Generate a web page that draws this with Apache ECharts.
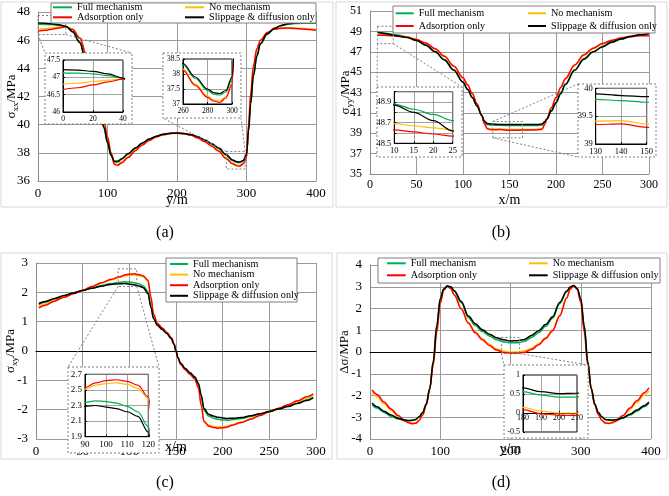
<!DOCTYPE html>
<html>
<head>
<meta charset="utf-8">
<script src="https://cdn.jsdelivr.net/npm/echarts@6/dist/echarts.min.js"></script>
<style>
  html, body { margin: 0; padding: 0; background: #fff; }
  #chart { width: 669px; height: 496px; }
</style>
</head>
<body>
<div id="chart"></div>
<script>
const names = ['Full mechanism', 'No mechanism', 'Adsorption only', 'Slippage & diffusion only'];
const colors = ['#00b050', '#ffc000', '#ff0000', '#000000'];
const font = "'Liberation Serif','Times New Roman',serif";

// (a) sigma_xx along y
const aX = [0,10,20,30,40,50,60,70,80,90,95,100,105,110,115,120,130,140,150,160,170,180,190,200,210,220,230,240,250,260,270,280,285,290,295,300,303,306,310,315,320,330,340,350,360,370,380,390,400];
const aFull = [47.13,47.12,47.10,47.05,46.97,46.58,45.82,44.27,42.45,40.65,39.75,38.70,37.80,37.34,37.35,37.53,37.90,38.31,38.67,38.96,39.16,39.31,39.38,39.39,39.37,39.28,39.12,38.89,38.61,38.30,37.85,37.45,37.33,37.30,37.40,37.82,39.55,41.45,43.45,44.85,45.72,46.42,46.82,47.02,47.13,47.18,47.20,47.20,47.20];
const aNo = [46.80,46.83,46.88,46.92,46.95,46.77,46.18,44.93,43.15,41.25,40.25,39.15,38.05,37.25,37.17,37.33,37.72,38.19,38.58,38.90,39.14,39.30,39.38,39.40,39.37,39.27,39.08,38.81,38.51,38.16,37.66,37.26,37.14,37.10,37.25,37.70,39.95,42.15,44.15,45.38,45.98,46.55,46.79,46.87,46.88,46.86,46.84,46.80,46.76];
const aAds = [46.65,46.70,46.78,46.87,46.95,46.75,46.15,44.90,43.10,41.20,40.20,39.10,38.00,37.17,37.12,37.28,37.68,38.15,38.55,38.88,39.12,39.28,39.37,39.40,39.36,39.25,39.05,38.78,38.47,38.12,37.62,37.22,37.10,37.05,37.20,37.65,40.00,42.20,44.20,45.40,46.00,46.55,46.78,46.85,46.86,46.83,46.80,46.75,46.70];
const aSlip = [47.22,47.21,47.17,47.10,46.98,46.60,45.85,44.30,42.50,40.70,39.80,38.75,37.85,37.40,37.40,37.58,37.95,38.35,38.70,38.98,39.18,39.32,39.39,39.40,39.38,39.30,39.15,38.92,38.65,38.35,37.90,37.50,37.38,37.35,37.45,37.90,39.60,41.50,43.50,44.90,45.75,46.45,46.85,47.05,47.17,47.22,47.25,47.25,47.25];

// (b) sigma_yy along x
const bX = [8,10,15,20,25,30,40,50,60,70,80,90,100,105,110,115,120,123,126,130,140,150,160,170,180,185,188,190,195,200,205,210,220,230,240,250,260,270,280,290,300];
const bFull = [48.90,48.88,48.83,48.78,48.72,48.64,48.45,48.13,47.67,47.02,46.22,45.22,44.02,43.30,42.50,41.68,40.75,40.12,39.85,39.80,39.78,39.75,39.75,39.75,39.77,39.80,40.10,40.35,41.15,41.95,42.85,43.75,45.15,46.25,46.97,47.47,47.92,48.23,48.48,48.66,48.78];
const bNo = [48.70,48.69,48.67,48.65,48.63,48.58,48.45,48.22,47.86,47.30,46.55,45.58,44.42,43.72,42.86,41.86,40.75,39.98,39.50,39.41,39.42,39.36,39.36,39.37,39.39,39.45,39.92,40.35,41.45,42.45,43.45,44.30,45.65,46.65,47.30,47.77,48.10,48.35,48.52,48.60,48.62];
const bAds = [48.64,48.63,48.61,48.59,48.57,48.53,48.42,48.20,47.85,47.30,46.55,45.60,44.45,43.75,42.90,41.90,40.75,39.95,39.45,39.35,39.36,39.30,39.30,39.32,39.34,39.40,39.90,40.35,41.50,42.50,43.50,44.35,45.70,46.70,47.35,47.80,48.12,48.35,48.50,48.56,48.58];
const bSlip = [48.90,48.87,48.80,48.72,48.62,48.55,48.40,48.10,47.65,47.00,46.20,45.20,44.00,43.30,42.50,41.70,40.80,40.20,39.95,39.90,39.87,39.85,39.85,39.85,39.86,39.90,40.15,40.40,41.20,42.00,42.90,43.80,45.20,46.30,47.00,47.50,47.95,48.25,48.50,48.68,48.80];
const bInsetYLabels = [48.5, 48.7, 48.9];

// (c) sigma_xy along x
const cX = [3,10,20,30,40,50,60,70,80,90,95,100,105,110,115,120,123,126,130,135,140,145,148,150,152,155,160,165,170,174,177,180,185,190,195,200,205,210,220,230,240,250,260,270,280,290,297];
const cFull = [1.58,1.66,1.77,1.88,1.98,2.06,2.15,2.23,2.30,2.34,2.36,2.35,2.33,2.29,2.22,2.03,1.55,1.13,0.90,0.75,0.61,0.43,0.22,0.00,-0.22,-0.43,-0.61,-0.75,-0.90,-1.13,-1.55,-2.03,-2.22,-2.29,-2.33,-2.35,-2.36,-2.34,-2.30,-2.23,-2.15,-2.06,-1.98,-1.88,-1.77,-1.66,-1.56];
const cNo = [1.52,1.60,1.73,1.85,1.96,2.07,2.19,2.31,2.42,2.51,2.56,2.58,2.59,2.57,2.52,2.39,1.82,1.23,0.94,0.78,0.63,0.45,0.23,0.00,-0.23,-0.45,-0.63,-0.78,-0.94,-1.23,-1.82,-2.39,-2.52,-2.57,-2.59,-2.58,-2.56,-2.51,-2.42,-2.31,-2.19,-2.07,-1.96,-1.85,-1.73,-1.60,-1.51];
const cAds = [1.47,1.56,1.70,1.83,1.95,2.07,2.20,2.33,2.44,2.53,2.59,2.62,2.63,2.61,2.56,2.41,1.85,1.25,0.95,0.79,0.64,0.46,0.24,0.00,-0.24,-0.46,-0.64,-0.79,-0.95,-1.25,-1.85,-2.41,-2.56,-2.61,-2.63,-2.62,-2.59,-2.53,-2.44,-2.33,-2.20,-2.07,-1.95,-1.83,-1.70,-1.56,-1.46];
const cSlip = [1.62,1.69,1.79,1.89,1.98,2.06,2.14,2.21,2.27,2.29,2.30,2.28,2.26,2.22,2.16,1.96,1.50,1.10,0.88,0.74,0.60,0.42,0.22,0.00,-0.22,-0.42,-0.60,-0.74,-0.88,-1.10,-1.50,-1.96,-2.16,-2.22,-2.26,-2.28,-2.30,-2.29,-2.27,-2.21,-2.14,-2.06,-1.98,-1.89,-1.79,-1.69,-1.60];

// (d) delta sigma along y
const dX = [3,10,20,30,40,50,55,60,65,70,75,80,85,90,95,100,105,110,115,120,130,140,150,160,170,180,190,200,210,220,230,240,250,260,270,280,285,290,295,300,305,310,315,320,325,330,335,340,345,350,360,370,380,390,397];
const dFull = [-2.42,-2.58,-2.78,-2.95,-3.08,-3.15,-3.16,-3.15,-3.10,-2.98,-2.77,-2.38,-1.68,-0.43,1.20,2.45,2.90,3.03,2.98,2.78,2.26,1.58,1.22,0.94,0.74,0.56,0.47,0.42,0.42,0.49,0.67,0.89,1.18,1.55,2.22,2.76,2.97,3.05,2.92,2.45,1.20,-0.43,-1.68,-2.38,-2.77,-2.98,-3.10,-3.14,-3.15,-3.14,-3.05,-2.90,-2.72,-2.52,-2.36];
const dNo = [-1.88,-2.06,-2.38,-2.68,-2.96,-3.18,-3.24,-3.28,-3.26,-3.13,-2.88,-2.43,-1.68,-0.57,0.92,2.27,2.86,3.02,2.93,2.64,2.01,1.36,0.92,0.61,0.36,0.15,0.05,0.00,0.00,0.06,0.17,0.38,0.66,1.02,1.70,2.50,2.90,3.06,2.88,2.32,0.95,-0.55,-1.66,-2.42,-2.86,-3.12,-3.25,-3.27,-3.23,-3.16,-2.94,-2.64,-2.32,-1.99,-1.80];
const dAds = [-1.75,-1.95,-2.30,-2.62,-2.92,-3.17,-3.25,-3.30,-3.28,-3.15,-2.90,-2.45,-1.70,-0.60,0.90,2.25,2.85,3.02,2.92,2.62,1.98,1.32,0.88,0.56,0.30,0.09,-0.02,-0.06,-0.06,-0.01,0.12,0.33,0.62,0.98,1.66,2.48,2.89,3.06,2.87,2.30,0.93,-0.58,-1.68,-2.44,-2.88,-3.14,-3.27,-3.29,-3.25,-3.18,-2.92,-2.58,-2.24,-1.88,-1.65];
const dSlip = [-2.35,-2.52,-2.72,-2.90,-3.05,-3.13,-3.15,-3.14,-3.10,-2.98,-2.78,-2.40,-1.70,-0.45,1.20,2.45,2.90,3.03,3.00,2.82,2.32,1.65,1.30,1.02,0.82,0.66,0.56,0.51,0.52,0.58,0.76,0.98,1.26,1.62,2.28,2.80,2.99,3.06,2.92,2.45,1.20,-0.45,-1.70,-2.40,-2.78,-2.98,-3.10,-3.12,-3.13,-3.12,-3.02,-2.86,-2.67,-2.47,-2.30];

// zoomed regions marked on the main plots (data units)
const aZoomL = { x: [0, 40], y: [46.4, 47.75] };
const aZoomR = { x: [271, 298], y: [36.85, 38.1] };
const bZoomL = { x: [8, 25], y: [47.8, 49.5] };
const bZoomM = { x: [132, 164], y: [38.55, 40.15] };
const cZoom = { x: [88, 108], y: [2.2, 2.8] };
const dZoom = { x: [187, 213], y: [-0.07, 0.67] };

function merge(a, b) {
  const out = Object.assign({}, a);
  for (const k in b) {
    const v = b[k];
    out[k] = (v && typeof v === 'object' && !Array.isArray(v) && a[k] && typeof a[k] === 'object') ? merge(a[k], v) : v;
  }
  return out;
}

const txt = { color: '#000', fontFamily: font };
const mainAxisBase = {
  type: 'value',
  axisTick: { show: false },
  axisLine: { show: true, onZero: false, lineStyle: { color: '#8c8c8c', width: 1 } },
  splitLine: { show: true, lineStyle: { color: '#9a9a9a', width: 1 } },
  axisLabel: Object.assign({ fontSize: 13, margin: 8 }, txt),
  nameLocation: 'middle',
  nameMoveOverlap: false,
  nameTextStyle: Object.assign({ fontSize: 14 }, txt),
  z: 0
};
const insetAxisBase = {
  type: 'value',
  axisTick: { show: true, inside: true, length: 2, lineStyle: { color: '#000' } },
  axisLine: { show: true, onZero: false, lineStyle: { color: '#000', width: 1 } },
  splitLine: { show: true, lineStyle: { color: '#8a8a8a', width: 0.8 } },
  axisLabel: Object.assign({ fontSize: 8, margin: 3 }, txt),
  z: 11
};
const nameRich = {
  m: { fontSize: 13, fontFamily: font, color: '#000' },
  s: { fontSize: 9, fontFamily: font, color: '#000', padding: [7, 0, 0, 0] }
};

const grids = [], xAxes = [], yAxes = [], series = [];
function addGrid(rect, xa, ya, xs, ysList, inset) {
  const gi = grids.length;
  grids.push({
    left: rect[0], top: rect[1], width: rect[2], height: rect[3],
    containLabel: false, outerBoundsMode: 'none',
    show: inset, borderColor: '#000', borderWidth: 1, backgroundColor: 'transparent',
    z: inset ? 10 : 0
  });
  xAxes.push(merge(inset ? insetAxisBase : mainAxisBase, Object.assign({ gridIndex: gi }, xa)));
  yAxes.push(merge(inset ? insetAxisBase : mainAxisBase, Object.assign({ gridIndex: gi }, ya)));
  ysList.forEach((ys, k) => {
    series.push({
      type: 'line', name: names[k], xAxisIndex: gi, yAxisIndex: gi,
      data: xs.map((x, i) => [x, ys[i]]),
      symbol: 'none', showSymbol: false, smooth: 0.35, smoothMonotone: 'x',
      lineStyle: { color: colors[k], width: inset ? 1.2 : 1.5 },
      itemStyle: { color: colors[k] },
      z: inset ? 12 : 2, silent: true
    });
  });
  return gi;
}

const aSet = [aFull, aNo, aAds, aSlip];
const bSet = [bFull, bNo, bAds, bSlip];
const cSet = [cFull, cNo, cAds, cSlip];
const dSet = [dFull, dNo, dAds, dSlip];

// (a)
const gA = addGrid([38, 12, 278, 169],
  { min: 0, max: 400, interval: 100, name: 'y/m', nameGap: 12, axisLabel: { margin: 6 } },
  { min: 36, max: 48, interval: 2, name: '{m|σ}{s|xx}{m|/MPa}', nameGap: 18, nameTextStyle: { rich: nameRich } },
  aX, aSet, false);
const gA1 = addGrid([63, 60, 60, 52],
  { min: 0, max: 40, interval: 20, axisLabel: { fontSize: 7.5 } },
  { min: 46, max: 47.5, interval: 0.5, axisLabel: { fontSize: 7.5 } },
  aX, aSet, true);
const gA2 = addGrid([183, 59, 49, 45],
  { min: 260, max: 300, interval: 20, axisLabel: { fontSize: 7.5 } },
  { min: 37, max: 38.5, interval: 0.5, axisLabel: { fontSize: 7.5 } },
  aX, aSet, true);

// (b)
const gB = addGrid([370, 11, 279, 163],
  { min: 0, max: 300, interval: 50, name: 'x/m', nameGap: 19, axisLabel: { fontSize: 12, margin: 5 } },
  { min: 35, max: 51, interval: 2, name: '{m|σ}{s|yy}{m|/MPa}', nameGap: 16, nameTextStyle: { rich: nameRich }, axisLabel: { fontSize: 12 } },
  bX, bSet, false);
const gB1 = addGrid([394.3, 91.7, 58.4, 51.6],
  { min: 10, max: 25, interval: 5, axisLabel: { fontSize: 8.5 } },
  { min: 48.5, max: 49, interval: 0.1, axisLabel: { fontSize: 8.5,
      formatter: v => bInsetYLabels.some(t => Math.abs(t - v) < 1e-6) ? v.toFixed(1) : '' } },
  bX, bSet, true);
const gB2 = addGrid([595.7, 88.3, 51, 55.7],
  { min: 130, max: 150, interval: 10, axisLabel: { fontSize: 8.5 } },
  { min: 39, max: 40, interval: 0.5, axisLabel: { fontSize: 8.5 } },
  bX, bSet, true);

// (c)
const gC = addGrid([36, 263, 280, 176],
  { min: 0, max: 300, interval: 50, axisLabel: { margin: 6 },
    axisLine: { onZero: true, lineStyle: { color: '#000' } } },
  { min: -3, max: 3, interval: 1, name: '{m|σ}{s|xy}{m|/MPa}', nameGap: 17, nameTextStyle: { rich: nameRich } },
  cX, cSet, false);
const gC1 = addGrid([85, 374.3, 63.3, 62.4],
  { min: 90, max: 120, interval: 10, axisLabel: { fontSize: 9 } },
  { min: 1.9, max: 2.7, interval: 0.2, axisLabel: { fontSize: 9 } },
  cX, cSet, true);

// (d)
const gD = addGrid([370, 265, 281, 174],
  { min: 0, max: 400, interval: 100, axisLabel: { margin: 6 },
    axisLine: { onZero: true, lineStyle: { color: '#000' } } },
  { min: -4, max: 4, interval: 1, name: 'Δσ/MPa', nameGap: 19, nameTextStyle: { fontSize: 13 } },
  dX, dSet, false);
const gD1 = addGrid([523, 375, 54, 57],
  { min: 180, max: 210, interval: 10, offset: -19, axisLabel: { fontSize: 8, margin: 1 } },
  { min: -0.5, max: 1, interval: 0.5, axisLabel: { fontSize: 8 } },
  dX, dSet, true);

function legend(left, top, data, lineHeight, gap, itemWidth) {
  return {
    data, left, top, orient: 'vertical', padding: 0, itemGap: gap,
    itemWidth, itemHeight: 2, icon: 'rect', selectedMode: false, z: 7,
    textStyle: { fontFamily: font, fontSize: 10.2, color: '#000', lineHeight }
  };
}
const legends = [
  legend(53, 2.3, [names[0], names[2]], 10, 0, 19),
  legend(185, 2.3, [names[1], names[3]], 10, 0, 19),
  legend(395.7, 7.8, [names[0], names[2]], 11, 1.7, 18),
  legend(528, 7.8, [names[1], names[3]], 11, 1.7, 18),
  legend(170, 259, names, 10, 0.6, 18),
  legend(387, 257.8, [names[0], names[2]], 11, 1, 18.7),
  legend(529, 257.8, [names[1], names[3]], 11, 1, 18.7)
];

const chart = echarts.init(document.getElementById('chart'), null, { renderer: 'canvas' });
chart.setOption({
  animation: false,
  backgroundColor: '#fff',
  grid: grids, xAxis: xAxes, yAxis: yAxes, series, legend: legends
});

// frames, legend boxes, zoom boxes, inset frames, connectors, captions
const P = (g, pt) => chart.convertToPixel({ gridIndex: g }, pt);
const dash = { fill: 'none', stroke: '#7f7f7f', lineWidth: 1, lineDash: [2, 2] };
const gfx = [];
[[1, 2, 332, 205], [336, 2, 331, 205], [1, 253, 331, 206], [337, 253, 330, 206]].forEach(r => {
  gfx.push({ type: 'rect', silent: true, z: 0, shape: { x: r[0], y: r[1], width: r[2], height: r[3] },
    style: { fill: 'none', stroke: '#d9d9d9', lineWidth: 1 } });
});
[[51, 3, 265, 20], [393, 6, 262, 27], [166, 258, 131, 44], [378, 258, 282, 25]].forEach(r => {
  gfx.push({ type: 'rect', silent: true, z: 6, shape: { x: r[0], y: r[1], width: r[2], height: r[3] },
    style: { fill: '#fff', stroke: '#7f7f7f', lineWidth: 1 } });
});
const zooms = [
  { g: gA, r: aZoomL, box: [45, 53, 132, 124], links: [[[0, 46.4], [45, 53]], [[40, 46.4], [132, 53]]] },
  { g: gA, r: aZoomR, box: [163, 53, 241, 118], links: [[[271, 38.1], [163, 118]], [[298, 38.1], [241, 118]]] },
  { g: gB, r: bZoomL, box: [377, 87, 462, 157], links: [[[8, 47.8], [377, 87]], [[25, 47.8], [462, 87]]] },
  { g: gB, r: bZoomM, box: [578, 84, 656, 157], links: [[[132, 40.15], [578, 84]], [[132, 38.55], [578, 157]]] },
  { g: gC, r: cZoom, box: [68, 367, 159, 453], links: [[[88, 2.2], [68, 367]], [[108, 2.2], [159, 367]]] },
  { g: gD, r: dZoom, box: [504, 365, 588, 438], links: [[[187, -0.07], [504, 365]], [[213, -0.07], [588, 365]]] }
];
zooms.forEach(zm => {
  const p1 = P(zm.g, [zm.r.x[0], zm.r.y[1]]);
  const p2 = P(zm.g, [zm.r.x[1], zm.r.y[0]]);
  gfx.push({ type: 'rect', silent: true, z: 3, shape: { x: p1[0], y: p1[1], width: p2[0] - p1[0], height: p2[1] - p1[1] }, style: dash });
  gfx.push({ type: 'rect', silent: true, z: 5,
    shape: { x: zm.box[0], y: zm.box[1], width: zm.box[2] - zm.box[0], height: zm.box[3] - zm.box[1] },
    style: Object.assign({}, dash, { fill: '#fff' }) });
  zm.links.forEach(l => {
    const a = P(zm.g, l[0]);
    gfx.push({ type: 'line', silent: true, z: 4, shape: { x1: a[0], y1: a[1], x2: l[1][0], y2: l[1][1] }, style: dash });
  });
});
// x-axis titles of (c) and (d) sit below the plot, away from the zero-line axis
[['x/m', 176, 447], ['y/m', 510.5, 449]].forEach(c => {
  gfx.push({ type: 'text', silent: true, z: 6, x: c[1], y: c[2],
    style: { text: c[0], fontSize: 14, fontFamily: font, fill: '#000', align: 'center', verticalAlign: 'middle' } });
});
[['(a)', 165, 233], ['(b)', 501, 233], ['(c)', 165, 483], ['(d)', 501, 483]].forEach(c => {
  gfx.push({ type: 'text', silent: true, z: 6, x: c[1], y: c[2],
    style: { text: c[0], fontSize: 16, fontFamily: font, fill: '#000', align: 'center', verticalAlign: 'middle' } });
});
chart.setOption({ graphic: { elements: gfx } });
</script>
</body>
</html>
